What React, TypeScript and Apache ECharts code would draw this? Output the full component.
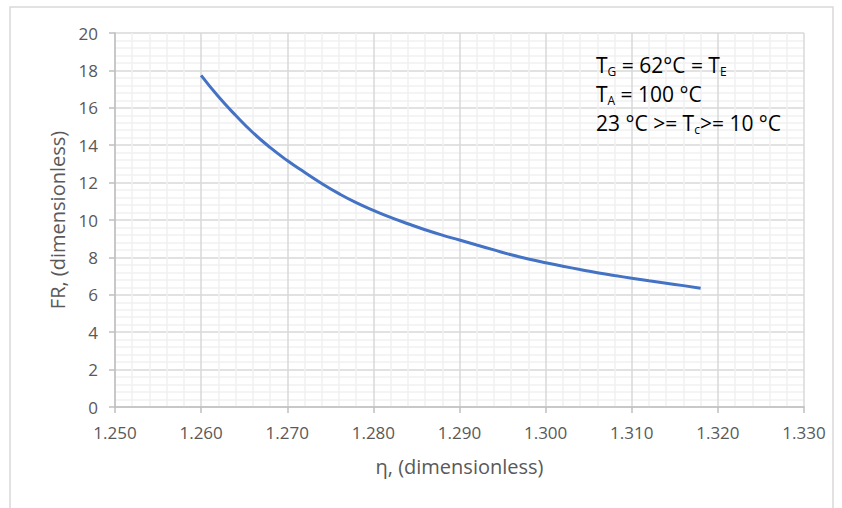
import React, { useEffect, useRef } from "react";
import * as echarts from "echarts";

const etaValues = [
  1.26, 1.262, 1.264, 1.266, 1.268, 1.27, 1.272, 1.274, 1.276, 1.278, 1.28,
  1.282, 1.284, 1.286, 1.288, 1.29, 1.292, 1.294, 1.296, 1.298, 1.3, 1.302,
  1.304, 1.306, 1.308, 1.31, 1.312, 1.314, 1.316, 1.318,
];
const frValues = [
  17.73, 16.6, 15.6, 14.68, 13.88, 13.18, 12.55, 11.95, 11.41, 10.93, 10.52,
  10.14, 9.8, 9.48, 9.19, 8.93, 8.66, 8.4, 8.14, 7.91, 7.71, 7.53, 7.35, 7.18,
  7.03, 6.89, 6.75, 6.62, 6.49, 6.35,
];
const annotationLines = [
  "{m|T}{s|G}{m| = 62°C = T}{s|E}",
  "{m|T}{s|A}{m| = 100 °C}",
  "{m|23 °C >= T}{s|c}{m|>= 10 °C}",
];

const FONT = "'Open Sans', Lato, sans-serif";
const TXT = "#595959";

export default function App() {
  const ref = useRef<HTMLDivElement>(null);
  useEffect(() => {
    if (!ref.current) return;
    const chart = echarts.init(ref.current, null, { renderer: "svg" });
    const data = etaValues.map((x, i) => [x, frValues[i]]);
    chart.setOption({
      animation: false,
      backgroundColor: "#ffffff",
      textStyle: { fontFamily: FONT },
      grid: { left: 115, right: 38, top: 33, bottom: 101 },
      xAxis: {
        type: "value",
        min: 1.25,
        max: 1.33,
        interval: 0.01,
        name: "η, (dimensionless)",
        nameLocation: "middle",
        nameGap: 49,
        nameTextStyle: { color: TXT, fontSize: 20, fontFamily: FONT },
        axisLine: { show: true, onZero: false, lineStyle: { color: "#bfbfbf", width: 1.5 } },
        axisTick: { show: true, length: 6, lineStyle: { color: "#bfbfbf", width: 1.5 } },
        axisLabel: {
          color: TXT,
          fontSize: 17,
          margin: 17,
          fontFamily: FONT,
          formatter: (v: number) => v.toFixed(3),
        },
        splitLine: { show: true, lineStyle: { color: "#d9d9d9", width: 1.5 } },
        minorTick: { show: false, splitNumber: 5 },
        minorSplitLine: { show: true, lineStyle: { color: "#f0f0f0", width: 1.5 } },
      },
      yAxis: {
        type: "value",
        min: 0,
        max: 20,
        interval: 2,
        name: "FR, (dimensionless)",
        nameLocation: "middle",
        nameGap: 46,
        nameTextStyle: { color: TXT, fontSize: 20, fontFamily: FONT },
        axisLine: { show: true, lineStyle: { color: "#bfbfbf", width: 1.5 } },
        axisTick: { show: true, length: 6, lineStyle: { color: "#bfbfbf", width: 1.5 } },
        axisLabel: { color: TXT, fontSize: 17, margin: 17, fontFamily: FONT },
        splitLine: { show: true, lineStyle: { color: "#d9d9d9", width: 1.5 } },
        minorTick: { show: false, splitNumber: 5 },
        minorSplitLine: { show: true, lineStyle: { color: "#f0f0f0", width: 1.5 } },
      },
      series: [
        {
          type: "line",
          data,
          smooth: true,
          showSymbol: false,
          lineStyle: { color: "#4472c4", width: 3 },
        },
      ],
      graphic: [
        {
          type: "rect",
          shape: { x: 10, y: 7, width: 823, height: 520 },
          style: { fill: "none", stroke: "#d9d9d9", lineWidth: 1.5 },
          silent: true,
          z: -1,
        },
        {
          type: "text",
          left: 596,
          top: 54,
          style: {
            text: annotationLines.join("\n"),
            fontFamily: FONT,
            rich: {
              m: { fontSize: 21, fill: "#000000", fontFamily: FONT, lineHeight: 29, verticalAlign: "bottom" },
              s: { fontSize: 12, fill: "#000000", fontFamily: FONT, lineHeight: 14, verticalAlign: "bottom", padding: [0, 0, -2, 0] },
            },
          },
          z: 10,
        },
      ],
    });
    return () => chart.dispose();
  }, []);
  return (
    <div
      ref={ref}
      style={{ position: "absolute", left: 0, top: 0, width: 842, height: 508 }}
    />
  );
}
